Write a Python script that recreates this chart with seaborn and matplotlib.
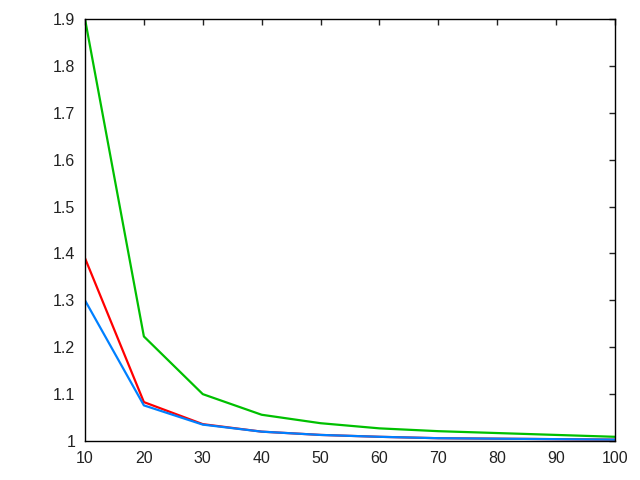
import pandas as pd
import matplotlib
matplotlib.use('Agg')
import matplotlib.pyplot as plt
import seaborn as sns

# values
x = [10, 20, 30, 40, 50, 60, 70, 80, 90, 100]
red = [1.39, 1.083, 1.036, 1.02, 1.013, 1.009, 1.006, 1.005, 1.004, 1.003]
green = [1.90, 1.223, 1.100, 1.056, 1.038, 1.027, 1.021, 1.017, 1.013, 1.009]
blue = [1.30, 1.076, 1.035, 1.02, 1.013, 1.009, 1.006, 1.005, 1.004, 1.003]

df = pd.DataFrame({'x': x * 3,
                   'y': red + green + blue,
                   'series': ['red'] * 10 + ['green'] * 10 + ['blue'] * 10})

sns.set_style('white')
plt.rcParams['font.family'] = ['Liberation Sans', 'DejaVu Sans']

fig = plt.figure(figsize=(6.4, 4.8), dpi=100)
ax = fig.add_axes([0.1328, 0.0812, 0.8282, 0.8792])

palette = {'red': '#ff0000', 'green': '#00c000', 'blue': '#0080ff'}
sns.lineplot(data=df, x='x', y='y', hue='series', palette=palette,
             linewidth=1.6, legend=False, ax=ax)

ax.set_xlim(10, 100)
ax.set_ylim(1.0, 1.9)
ax.set_xticks(range(10, 101, 10))
ax.set_yticks([1.0, 1.1, 1.2, 1.3, 1.4, 1.5, 1.6, 1.7, 1.8, 1.9])
ax.set_yticklabels(['1', '1.1', '1.2', '1.3', '1.4', '1.5', '1.6', '1.7', '1.8', '1.9'])
ax.set_xlabel('')
ax.set_ylabel('')
ax.tick_params(direction='in', length=4, width=1, top=True, right=True,
               labelsize=11.5, colors='#222222', pad=7)
for s in ax.spines.values():
    s.set_color('black')
    s.set_linewidth(1)

fig.savefig('out.png', dpi=100)
